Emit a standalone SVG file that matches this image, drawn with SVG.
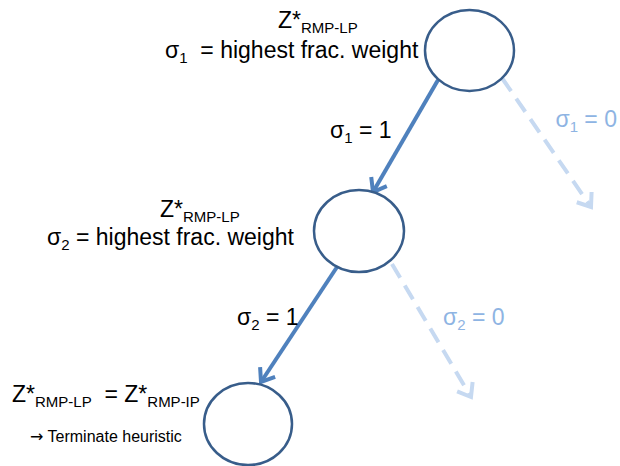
<svg xmlns="http://www.w3.org/2000/svg" width="620" height="466" viewBox="0 0 620 466">
<defs>
<style>
.node{fill:#fff;stroke:#385D8A;stroke-width:2.5}
.solid{stroke:#4F81BD;stroke-width:4;fill:none}
.dash{stroke:#C6D9F1;stroke-width:4;fill:none;stroke-dasharray:16 9}
text{font-family:"Liberation Sans",Arial,sans-serif;font-size:23px;fill:#000;white-space:pre}
.sub{font-size:15px}
.faint{fill:#8EB4E3}
.small{font-size:16px}
.arr{font-family:"DejaVu Sans",sans-serif}
</style>
<marker id="hs" markerUnits="userSpaceOnUse" viewBox="-16 -12 20 24" refX="0" refY="0" markerWidth="20" markerHeight="24" orient="auto">
<path d="M-12 -9 L0 0 L-12 9" fill="none" stroke="#4F81BD" stroke-width="4" stroke-linejoin="miter"/>
</marker>
<marker id="hd" markerUnits="userSpaceOnUse" viewBox="-16 -12 20 24" refX="0" refY="0" markerWidth="20" markerHeight="24" orient="auto">
<path d="M-12 -9 L0 0 L-12 9" fill="none" stroke="#C6D9F1" stroke-width="4" stroke-linejoin="miter"/>
</marker>
</defs>
<rect width="620" height="466" fill="#fff"/>
<g id="connectors">
<line class="solid" x1="438" y1="80" x2="373" y2="192" marker-end="url(#hs)"/>
<line class="dash" x1="502" y1="78" x2="591" y2="207" marker-end="url(#hd)"/>
<line class="solid" x1="337" y1="267" x2="261" y2="382" marker-end="url(#hs)"/>
<line class="dash" x1="392" y1="264" x2="471" y2="397" marker-end="url(#hd)"/>
</g>
<g id="node1">
<ellipse class="node" cx="469.5" cy="50.5" rx="44.5" ry="40.5"/>
<text x="278" y="28">Z*<tspan class="sub" dy="5">RMP-LP</tspan></text>
<text x="165" y="58">σ<tspan class="sub" dy="5">1</tspan><tspan dy="-5">  = highest frac. weight</tspan></text>
</g>
<g id="node2">
<ellipse class="node" cx="359" cy="231" rx="45" ry="41"/>
<text x="160" y="217">Z*<tspan class="sub" dy="5">RMP-LP</tspan></text>
<text x="47" y="245">σ<tspan class="sub" dy="5">2</tspan><tspan dy="-5"> = highest frac. weight</tspan></text>
</g>
<g id="node3">
<ellipse class="node" cx="248" cy="424" rx="44" ry="41"/>
<text x="12" y="402">Z*<tspan class="sub" dy="5">RMP-LP</tspan><tspan dy="-5">  = Z*</tspan><tspan class="sub" dy="5">RMP-IP</tspan></text>
<text class="small" x="30" y="442"><tspan class="arr">→</tspan> Terminate heuristic</text>
</g>
<g id="labels">
<text x="330" y="138">σ<tspan class="sub" dy="5">1</tspan><tspan dy="-5"> = 1</tspan></text>
<text class="faint" x="617" y="127" text-anchor="end">σ<tspan class="sub" dy="5">1</tspan><tspan dy="-5"> = 0</tspan></text>
<text x="237" y="325">σ<tspan class="sub" dy="5">2</tspan><tspan dy="-5"> = 1</tspan></text>
<text class="faint" x="443" y="325">σ<tspan class="sub" dy="5">2</tspan><tspan dy="-5"> = 0</tspan></text>
</g>
</svg>
